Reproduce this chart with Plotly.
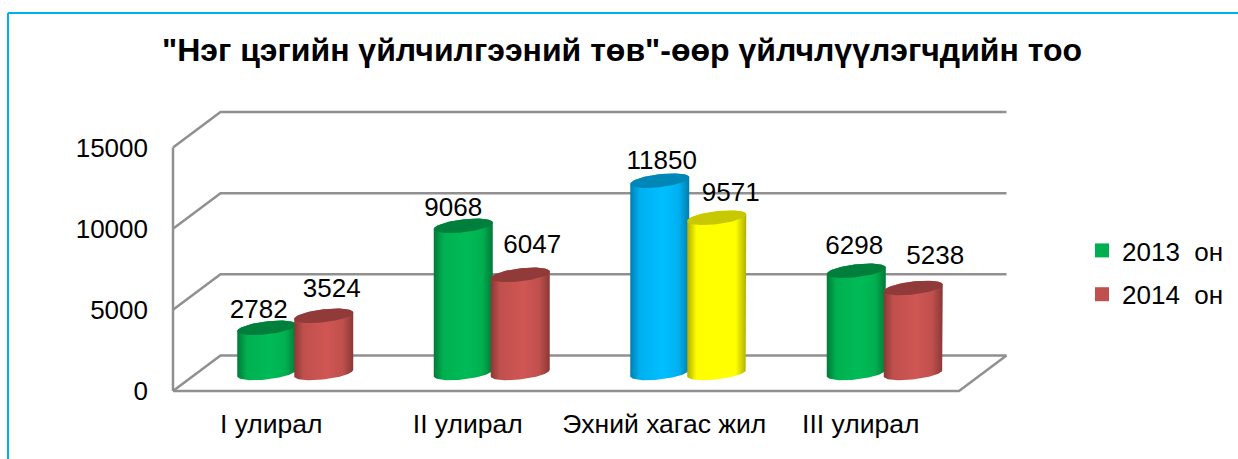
import numpy as np
import plotly.graph_objects as go

# ---- data ----
title = '"Нэг цэгийн үйлчилгээний төв"-өөр үйлчлүүлэгчдийн тоо'
categories = ["I улирал", "II улирал", "Эхний хагас жил", "III улирал"]
values_2013 = [2782, 9068, 11850, 6298]
values_2014 = [3524, 6047, 9571, 5238]
y_ticks = [0, 5000, 10000, 15000]
name_2013 = "2013  он"
name_2014 = "2014  он"

# ---- colours per point ----
GREEN = ("#00b050", "#00bb57", "#007f3c", "#007a38")
RED = ("#c0504d", "#cf5653", "#903b39", "#8a3836")
BLUE = ("#00b0f0", "#00bfff", "#0087b8", "#007fae")
YELLOW = ("#ffff00", "#ffff00", "#c8c800", "#b0b000")
colors_2013 = [GREEN, GREEN, BLUE, GREEN]
colors_2014 = [RED, RED, YELLOW, RED]

# ---- geometry (pixel scale of the axes) ----
PX_X = 196.5          # pixels per category
PX_Y = 243.4 / 15000  # pixels per value unit
X0_PX, Y0_PX = 271.25, 391
DEPTH_X = 47.5 / PX_X
DEPTH_Y = 35.5 / PX_Y
BAR_SHIFT = {0: -0.145 + 24 / PX_X - 0.0, 1: 0.145 + 24 / PX_X}
RADIUS = 29.5 / PX_X
BASE = 1110
ELL_B = 6.5 / PX_Y
ELL_S = 3.3 / PX_Y
GRID = "#909090"

# label centres relative to the cylinder top, pixels (dx, dy up)
label_off_2013 = [(-8, 16.5), (-10, 16.5), (2, 18.5), (-2, 23.5)]
label_off_2014 = [(8, 25.5), (12, 28), (14, 23.5), (22, 30.5)]

fig = go.Figure()


def line(xs, ys):
    fig.add_trace(go.Scatter(x=xs, y=ys, mode="lines", showlegend=False, hoverinfo="skip",
                             line=dict(color=GRID, width=2.5)))


x_l, x_r = -0.5, len(categories) - 0.5
for v in y_ticks:
    line([x_l, x_l + DEPTH_X, x_r + DEPTH_X], [v, v + DEPTH_Y, v + DEPTH_Y])
line([x_l, x_l], [y_ticks[0], y_ticks[-1]])
line([x_l, x_r, x_r + DEPTH_X], [0, 0, DEPTH_Y])


def cylinder(cx, value, c):
    edge, mid, top, dark = c
    t_up = np.linspace(np.pi, 0, 48)
    t_dn = np.linspace(0, -np.pi, 48)
    cy_top = value + BASE
    xs = np.concatenate([cx + RADIUS * np.cos(t_up), cx + RADIUS * np.cos(t_dn)])
    ys = np.concatenate([cy_top + ELL_S * np.cos(t_up) + ELL_B * np.sin(t_up),
                         BASE + ELL_S * np.cos(t_dn) + ELL_B * np.sin(t_dn)])
    fig.add_trace(go.Scatter(
        x=xs, y=ys, mode="lines", fill="toself", showlegend=False, hoverinfo="skip",
        line=dict(width=0, color=edge),
        fillgradient=dict(type="horizontal", colorscale=[
            [0, dark], [0.16, edge], [0.55, mid], [0.82, edge], [1, dark]]),
    ))
    t = np.linspace(0, 2 * np.pi, 96)
    fig.add_trace(go.Scatter(
        x=cx + RADIUS * np.cos(t), y=cy_top + ELL_S * np.cos(t) + ELL_B * np.sin(t),
        mode="lines", fill="toself", fillcolor=top, showlegend=False, hoverinfo="skip",
        line=dict(width=0, color=top),
    ))


for i in range(len(categories)):
    cylinder(i + BAR_SHIFT[0], values_2013[i], colors_2013[i])
    cylinder(i + BAR_SHIFT[1], values_2014[i], colors_2014[i])

for k, (vals, offs) in enumerate([(values_2013, label_off_2013), (values_2014, label_off_2014)]):
    fig.add_trace(go.Scatter(
        x=[i + BAR_SHIFT[k] + offs[i][0] / PX_X for i in range(len(vals))],
        y=[vals[i] + BASE + offs[i][1] / PX_Y for i in range(len(vals))],
        mode="text", text=[str(v) for v in vals], textposition="middle center",
        textfont=dict(size=26, color="#000000"), showlegend=False, hoverinfo="skip",
    ))

for nm, col, grp in [(name_2013, GREEN[0], "a"), (name_2014, RED[0], "b")]:
    fig.add_trace(go.Scatter(x=[None], y=[None], mode="markers", name=nm, legendgroup=grp,
                             marker=dict(symbol="square", size=14, color=col)))

L_PX, B_PX = 167, 397
W, H = 1238, 459
plot_w = W - L_PX


def px(x):
    return (x - L_PX) / plot_w


def py(y):
    return (B_PX - y) / B_PX


BORDER = "#00b0f0"
fig.update_layout(
    width=W, height=H, autosize=False,
    margin=dict(l=L_PX, r=0, t=0, b=H - B_PX, pad=0),
    paper_bgcolor="white", plot_bgcolor="white",
    font=dict(family="Liberation Sans, Arial, sans-serif", color="#000000", size=26),
    title=dict(text=title, x=622 / W, xref="container", xanchor="center",
               y=1 - 50 / H, yref="container", yanchor="middle",
               font=dict(size=32, color="#000000", family="Liberation Sans, Arial, sans-serif", weight="bold")),
    xaxis=dict(range=[(L_PX - X0_PX) / PX_X, (W - X0_PX) / PX_X], tickmode="array",
               tickvals=list(range(len(categories))), ticktext=categories,
               showgrid=False, zeroline=False, showline=False, ticks="",
               tickfont=dict(size=26.5), ticklabelstandoff=8, automargin=False),
    yaxis=dict(range=[(Y0_PX - B_PX) / PX_Y, Y0_PX / PX_Y], tickmode="array",
               tickvals=y_ticks, ticktext=[str(v) for v in y_ticks],
               showgrid=False, zeroline=False, showline=False, ticks="",
               tickfont=dict(size=26), ticklabelstandoff=18, automargin=False),
    legend=dict(x=px(1082), y=py(227), xanchor="left", yanchor="top", xref="paper", yref="paper",
                bgcolor="rgba(0,0,0,0)", font=dict(size=26), traceorder="grouped",
                tracegroupgap=7, itemwidth=30),
    shapes=[
        dict(type="line", xref="paper", yref="paper", x0=px(8), x1=px(8), y0=py(13), y1=py(459),
             line=dict(color=BORDER, width=2)),
        dict(type="line", xref="paper", yref="paper", x0=px(8), x1=px(1238), y0=py(13), y1=py(13),
             line=dict(color=BORDER, width=2)),
    ],
)

fig.write_html("out.html", config={"displayModeBar": False},
               post_script="document.body.style.margin='0';document.body.style.overflow='hidden';")
